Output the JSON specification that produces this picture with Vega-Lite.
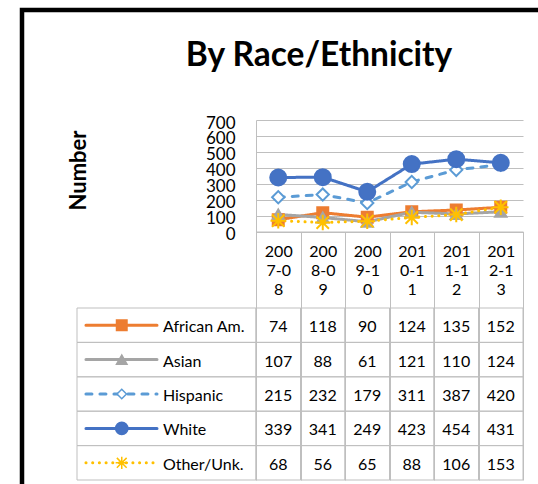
{
  "$schema": "https://vega.github.io/schema/vega-lite/v6.json",
  "width": 522,
  "height": 480,
  "autosize": {"type": "none"},
  "padding": {"left": 22, "top": 10, "right": -6, "bottom": -6},
  "background": "white",
  "title": {"text": "By Race/Ethnicity", "anchor": "middle", "frame": "group", "font": "Lato", "fontSize": 33.5, "fontWeight": "bold", "color": "black", "offset": 0, "baseline": "alphabetic", "dx": 36, "dy": 89},
  "config": {"view": {"stroke": "black", "strokeWidth": 4.5, "fill": "white"}, "font": "Lato"},
  "data": {"values": [
    {"year": "2007-08", "group": "African Am.", "count": 74},
    {"year": "2008-09", "group": "African Am.", "count": 118},
    {"year": "2009-10", "group": "African Am.", "count": 90},
    {"year": "2010-11", "group": "African Am.", "count": 124},
    {"year": "2011-12", "group": "African Am.", "count": 135},
    {"year": "2012-13", "group": "African Am.", "count": 152},
    {"year": "2007-08", "group": "Asian", "count": 107},
    {"year": "2008-09", "group": "Asian", "count": 88},
    {"year": "2009-10", "group": "Asian", "count": 61},
    {"year": "2010-11", "group": "Asian", "count": 121},
    {"year": "2011-12", "group": "Asian", "count": 110},
    {"year": "2012-13", "group": "Asian", "count": 124},
    {"year": "2007-08", "group": "Hispanic", "count": 215},
    {"year": "2008-09", "group": "Hispanic", "count": 232},
    {"year": "2009-10", "group": "Hispanic", "count": 179},
    {"year": "2010-11", "group": "Hispanic", "count": 311},
    {"year": "2011-12", "group": "Hispanic", "count": 387},
    {"year": "2012-13", "group": "Hispanic", "count": 420},
    {"year": "2007-08", "group": "White", "count": 339},
    {"year": "2008-09", "group": "White", "count": 341},
    {"year": "2009-10", "group": "White", "count": 249},
    {"year": "2010-11", "group": "White", "count": 423},
    {"year": "2011-12", "group": "White", "count": 454},
    {"year": "2012-13", "group": "White", "count": 431},
    {"year": "2007-08", "group": "Other/Unk.", "count": 68},
    {"year": "2008-09", "group": "Other/Unk.", "count": 56},
    {"year": "2009-10", "group": "Other/Unk.", "count": 65},
    {"year": "2010-11", "group": "Other/Unk.", "count": 88},
    {"year": "2011-12", "group": "Other/Unk.", "count": 106},
    {"year": "2012-13", "group": "Other/Unk.", "count": 153}
  ]},
  "resolve": {"scale": {"x": "independent", "y": "independent", "size": "independent"}},
  "layer": [
    {
      "mark": {"type": "rect", "filled": false, "stroke": "#BFBFBF", "strokeWidth": 1},
      "encoding": {
        "x": {"field": "year", "type": "ordinal", "scale": {"type": "band", "domain": ["2007-08","2008-09","2009-10","2010-11","2011-12","2012-13"], "range": [234, 501], "paddingInner": 0, "paddingOuter": 0},
          "axis": {"orient": "bottom", "offset": -258.5, "domainColor": "#BFBFBF", "tickColor": "#BFBFBF", "tickBand": "extent", "tickSize": 248.5, "labelPadding": -237, "labelAngle": 0, "labelBaseline": "top", "labelAlign": "center", "labelFont": "Lato", "labelFontSize": 16, "labelColor": "black", "labelLineHeight": 19, "labelExpr": "[slice(datum.label,0,3), slice(datum.label,3,6), slice(datum.label,6)]", "title": null, "grid": false, "labelOverlap": false, "labelFlush": false}},
        "y": {"field": "group", "type": "nominal", "scale": {"type": "band", "domain": ["African Am.","Asian","Hispanic","White","Other/Unk."], "range": [298, 470], "paddingInner": 0, "paddingOuter": 0}, "axis": null}
      }
    },
    {
      "mark": {"type": "text", "font": "Lato", "fontSize": 16, "color": "black", "dy": 2},
      "encoding": {
        "x": {"field": "year", "type": "ordinal", "bandPosition": 0.5, "scale": {"type": "band", "domain": ["2007-08","2008-09","2009-10","2010-11","2011-12","2012-13"], "range": [234, 501], "paddingInner": 0, "paddingOuter": 0}, "axis": null},
        "y": {"field": "group", "type": "nominal", "bandPosition": 0.5, "scale": {"type": "band", "domain": ["African Am.","Asian","Hispanic","White","Other/Unk."], "range": [298, 470], "paddingInner": 0, "paddingOuter": 0}, "axis": null},
        "text": {"field": "count", "type": "quantitative"}
      }
    },
    {
      "transform": [{"filter": "datum.year === '2007-08'"}],
      "mark": {"type": "rect", "filled": false, "stroke": "#BFBFBF", "strokeWidth": 1},
      "encoding": {
        "x": {"datum": 0, "type": "quantitative", "scale": {"domain": [0, 1], "range": [55, 234], "zero": false, "nice": false}, "axis": null},
        "x2": {"datum": 1},
        "y": {"field": "group", "type": "nominal", "scale": {"type": "band", "domain": ["African Am.","Asian","Hispanic","White","Other/Unk."], "range": [298, 470], "paddingInner": 0, "paddingOuter": 0}, "axis": null}
      }
    },
    {
      "transform": [{"filter": "datum.year === '2007-08'"}],
      "mark": {"type": "rule", "strokeWidth": 3, "strokeCap": "round"},
      "encoding": {
        "x": {"datum": 0.05, "type": "quantitative", "scale": {"domain": [0, 1], "range": [55, 234], "zero": false, "nice": false}, "axis": null},
        "x2": {"datum": 0.447},
        "y": {"field": "group", "type": "nominal", "bandPosition": 0.5, "scale": {"type": "band", "domain": ["African Am.","Asian","Hispanic","White","Other/Unk."], "range": [298, 470], "paddingInner": 0, "paddingOuter": 0}, "axis": null},
        "color": {"field": "group", "type": "nominal", "scale": {"domain": ["African Am.","Asian","Hispanic","White","Other/Unk."], "range": ["#ED7D31","#A5A5A5","#5B9BD5","#4472C4","#FFC000"]}, "legend": null},
        "strokeDash": {"field": "group", "type": "nominal", "scale": {"domain": ["African Am.","Asian","Hispanic","White","Other/Unk."], "range": [[1,0],[1,0],[6,8],[1,0],[0.1,6.6]]}, "legend": null}
      }
    },
    {
      "transform": [{"filter": "datum.year === '2007-08'"}],
      "mark": {"type": "point", "filled": true, "strokeWidth": 1.5, "opacity": 1},
      "encoding": {
        "x": {"datum": 0.25, "type": "quantitative", "scale": {"domain": [0, 1], "range": [55, 234], "zero": false, "nice": false}, "axis": null},
        "y": {"field": "group", "type": "nominal", "bandPosition": 0.5, "scale": {"type": "band", "domain": ["African Am.","Asian","Hispanic","White","Other/Unk."], "range": [298, 470], "paddingInner": 0, "paddingOuter": 0}, "axis": null},
        "shape": {"field": "group", "type": "nominal", "scale": {"domain": ["African Am.","Asian","Hispanic","White","Other/Unk."], "range": ["square","triangle-up","diamond","circle","M0,-1L0,1M-0.8,-0.8L0.8,0.8M-0.8,0.8L0.8,-0.8M-1,0L1,0"]}, "legend": null},
        "stroke": {"field": "group", "type": "nominal", "scale": {"domain": ["African Am.","Asian","Hispanic","White","Other/Unk."], "range": ["#ED7D31","#A5A5A5","#5B9BD5","#4472C4","#FFC000"]}, "legend": null},
        "fill": {"field": "group", "type": "nominal", "scale": {"domain": ["African Am.","Asian","Hispanic","White","Other/Unk."], "range": ["#ED7D31","#A5A5A5","#FFFFFF","#4472C4","#FFC000"]}, "legend": null},
        "size": {"field": "group", "type": "nominal", "scale": {"type": "ordinal", "domain": ["African Am.","Asian","Hispanic","White","Other/Unk."], "range": [110, 110, 90, 150, 150]}, "legend": null}
      }
    },
    {
      "transform": [{"filter": "datum.year === '2007-08'"}],
      "mark": {"type": "text", "align": "left", "font": "Lato", "fontSize": 16, "color": "black", "dy": 2},
      "encoding": {
        "x": {"datum": 0.48, "type": "quantitative", "scale": {"domain": [0, 1], "range": [55, 234], "zero": false, "nice": false}, "axis": null},
        "y": {"field": "group", "type": "nominal", "bandPosition": 0.5, "scale": {"type": "band", "domain": ["African Am.","Asian","Hispanic","White","Other/Unk."], "range": [298, 470], "paddingInner": 0, "paddingOuter": 0}, "axis": null},
        "text": {"field": "group", "type": "nominal"}
      }
    },
    {
      "mark": {"type": "line", "strokeWidth": 3, "strokeCap": "round", "strokeJoin": "round"},
      "encoding": {
        "x": {"field": "year", "type": "ordinal", "bandPosition": 0.5, "scale": {"type": "band", "domain": ["2007-08","2008-09","2009-10","2010-11","2011-12","2012-13"], "range": [234, 501], "paddingInner": 0, "paddingOuter": 0}, "axis": null},
        "y": {"field": "count", "type": "quantitative", "scale": {"domain": [0, 700], "range": [221.5, 110], "nice": false, "zero": true},
          "axis": {"orient": "left", "offset": -234, "values": [0,100,200,300,400,500,600,700], "domainColor": "#BFBFBF", "ticks": false, "grid": true, "gridColor": "#BFBFBF", "labelOverlap": false, "labelPadding": 21, "labelOffset": 3, "labelFont": "Lato", "labelFontSize": 17, "labelColor": "black", "title": "Number", "titleFont": "Lato", "titleFontSize": 22, "titleFontWeight": "bold", "titleColor": "black", "titleX": -178, "titleY": 160, "titleAngle": 270, "titleAlign": "center", "titleBaseline": "middle"}},
        "color": {"field": "group", "type": "nominal", "scale": {"domain": ["African Am.","Asian","Hispanic","White","Other/Unk."], "range": ["#ED7D31","#A5A5A5","#5B9BD5","#4472C4","#FFC000"]}, "legend": null},
        "strokeDash": {"field": "group", "type": "nominal", "scale": {"domain": ["African Am.","Asian","Hispanic","White","Other/Unk."], "range": [[1,0],[1,0],[6,8],[1,0],[0.1,6.6]]}, "legend": null}
      }
    },
    {
      "mark": {"type": "point", "filled": true, "strokeWidth": 2, "opacity": 1},
      "encoding": {
        "x": {"field": "year", "type": "ordinal", "bandPosition": 0.5, "scale": {"type": "band", "domain": ["2007-08","2008-09","2009-10","2010-11","2011-12","2012-13"], "range": [234, 501], "paddingInner": 0, "paddingOuter": 0}, "axis": null},
        "y": {"field": "count", "type": "quantitative", "scale": {"domain": [0, 700], "range": [221.5, 110], "nice": false, "zero": true}, "axis": null},
        "shape": {"field": "group", "type": "nominal", "scale": {"domain": ["African Am.","Asian","Hispanic","White","Other/Unk."], "range": ["square","triangle-up","diamond","circle","M0,-1L0,1M-0.8,-0.8L0.8,0.8M-0.8,0.8L0.8,-0.8M-1,0L1,0"]}, "legend": null},
        "stroke": {"field": "group", "type": "nominal", "scale": {"domain": ["African Am.","Asian","Hispanic","White","Other/Unk."], "range": ["#ED7D31","#A5A5A5","#5B9BD5","#4472C4","#FFC000"]}, "legend": null},
        "fill": {"field": "group", "type": "nominal", "scale": {"domain": ["African Am.","Asian","Hispanic","White","Other/Unk."], "range": ["#ED7D31","#A5A5A5","#FFFFFF","#4472C4","#FFC000"]}, "legend": null},
        "size": {"field": "group", "type": "nominal", "scale": {"type": "ordinal", "domain": ["African Am.","Asian","Hispanic","White","Other/Unk."], "range": [121, 130, 150, 256, 240]}, "legend": null}
      }
    }
  ]
}
